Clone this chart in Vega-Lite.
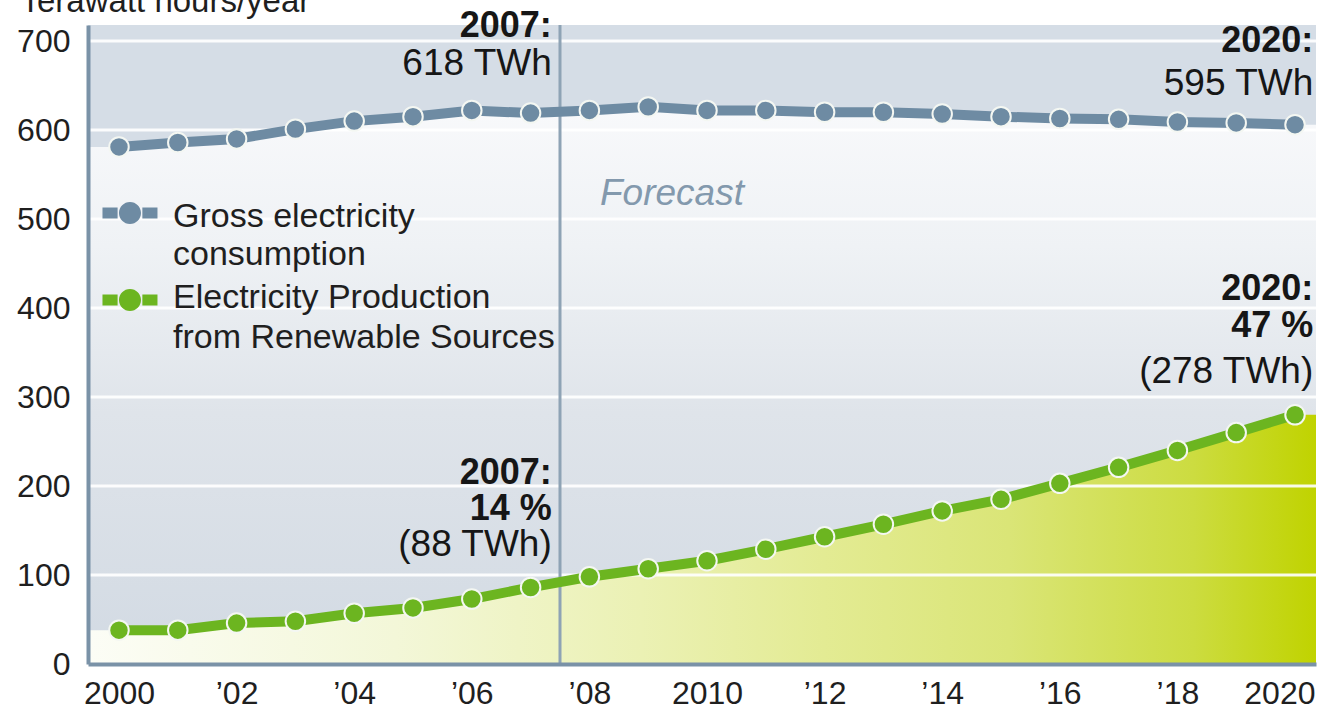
{
  "$schema": "https://vega.github.io/schema/vega-lite/v6.json",
  "width": 1228,
  "height": 639,
  "autosize": {"type": "none"},
  "padding": {"left": 88, "top": 25, "right": 5, "bottom": 48},
  "background": "white",
  "config": {
    "view": {"stroke": null, "fill": "#d5dde6"},
    "font": "Liberation Sans"
  },
  "datasets": {
    "energy": [
      {"year": 1999.473, "gross": 581, "renew": 38},
      {"year": 2000, "gross": 581, "renew": 38},
      {"year": 2001, "gross": 586, "renew": 38},
      {"year": 2002, "gross": 590, "renew": 46},
      {"year": 2003, "gross": 601, "renew": 48},
      {"year": 2004, "gross": 610, "renew": 57},
      {"year": 2005, "gross": 615, "renew": 63},
      {"year": 2006, "gross": 622, "renew": 73},
      {"year": 2007, "gross": 619, "renew": 86},
      {"year": 2008, "gross": 622, "renew": 98},
      {"year": 2009, "gross": 626, "renew": 107},
      {"year": 2010, "gross": 622, "renew": 116},
      {"year": 2011, "gross": 622, "renew": 129},
      {"year": 2012, "gross": 620, "renew": 143},
      {"year": 2013, "gross": 620, "renew": 157},
      {"year": 2014, "gross": 618, "renew": 172},
      {"year": 2015, "gross": 615, "renew": 185},
      {"year": 2016, "gross": 613, "renew": 203},
      {"year": 2017, "gross": 612, "renew": 221},
      {"year": 2018, "gross": 609, "renew": 240},
      {"year": 2019, "gross": 608, "renew": 260},
      {"year": 2020, "gross": 606, "renew": 280},
      {"year": 2020.357, "gross": 606, "renew": 280}
    ],
    "grid": [
      {"v": 100}, {"v": 200}, {"v": 300}, {"v": 400}, {"v": 500}, {"v": 600}, {"v": 700}
    ],
    "split": [{"year": 2007.5}],
    "legendSymbols": [
      {"year": 2000.187, "tw": 506.8, "key": "gross"},
      {"year": 2000.187, "tw": 409, "key": "renew"}
    ],
    "legendLabels": [
      {"year": 2000.919, "tw": 491, "text": "Gross electricity"},
      {"year": 2000.919, "tw": 448.3, "text": "consumption"},
      {"year": 2000.919, "tw": 400, "text": "Electricity Production"},
      {"year": 2000.919, "tw": 355.1, "text": "from Renewable Sources"}
    ],
    "notes": [
      {"year": 2007.36, "tw": 704.5, "text": "2007:", "kind": "head"},
      {"year": 2007.36, "tw": 661.8, "text": "618 TWh", "kind": "body"},
      {"year": 2020.31, "tw": 687.7, "text": "2020:", "kind": "head"},
      {"year": 2020.31, "tw": 639.3, "text": "595 TWh", "kind": "body"},
      {"year": 2007.36, "tw": 202.3, "text": "2007:", "kind": "head"},
      {"year": 2007.36, "tw": 161.9, "text": "14 %", "kind": "head"},
      {"year": 2007.36, "tw": 121.4, "text": "(88 TWh)", "kind": "body"},
      {"year": 2020.31, "tw": 408.5, "text": "2020:", "kind": "head"},
      {"year": 2020.31, "tw": 367.4, "text": "47 %", "kind": "head"},
      {"year": 2020.31, "tw": 315.7, "text": "(278 TWh)", "kind": "body"}
    ],
    "forecast": [{"year": 2008.18, "tw": 515.7, "text": "Forecast"}]
  },
  "layer": [
    {
      "data": {"name": "energy"},
      "mark": {
        "type": "area",
        "fill": {"gradient": "linear", "x1": 0, "y1": 0, "x2": 0, "y2": 1,
          "stops": [
            {"offset": 0, "color": "#f8f9fb"},
            {"offset": 0.25, "color": "#eff2f5"},
            {"offset": 0.55, "color": "#dfe4ea"},
            {"offset": 1, "color": "#d2dae3"}
          ]}
      },
      "encoding": {
        "x": {"field": "year", "type": "quantitative", "title": null,
          "scale": {"domain": [1999.473, 2020.357], "nice": false, "zero": false},
          "axis": {
            "values": [2000, 2002, 2004, 2006, 2008, 2010, 2012, 2014, 2016, 2018, 2020],
            "labelExpr": "datum.value % 10 == 0 ? toString(datum.value) : '\u2019' + slice(toString(datum.value), 2)",
            "labelAlign": {"condition": {"test": "datum.value == 2020", "value": "right"}, "value": "center"},
            "labelOffset": {"condition": {"test": "datum.value == 2020", "value": 20}, "value": 0},
            "ticks": false, "grid": false, "domainColor": "#7a92a7", "domainWidth": 4,
            "labelFontSize": 32, "labelColor": "#1f1f1f", "labelPadding": 14,
            "labelFont": "Liberation Sans", "zindex": 1
          }},
        "y": {"field": "gross", "type": "quantitative", "title": "Terawatt hours/year",
          "scale": {"domain": [0, 718], "nice": false},
          "axis": {
            "values": [0, 100, 200, 300, 400, 500, 600, 700],
            "ticks": false, "grid": false, "domainColor": "#7a92a7", "domainWidth": 4,
            "labelFontSize": 32, "labelColor": "#1f1f1f", "labelPadding": 18,
            "labelFont": "Liberation Sans", "zindex": 1,
            "titleAngle": 0, "titleAlign": "left", "titleBaseline": "alphabetic",
            "titleX": -68, "titleY": -14, "titleFontSize": 33, "titleFontWeight": "normal",
            "titleColor": "#1f1f1f", "titleFont": "Liberation Sans"
          }}
      }
    },
    {
      "data": {"name": "energy"},
      "mark": {
        "type": "area",
        "fill": {"gradient": "linear", "x1": 0, "y1": 0, "x2": 1, "y2": 0,
          "stops": [
            {"offset": 0, "color": "#fcfdf6"},
            {"offset": 0.25, "color": "#f3f7d8"},
            {"offset": 0.45, "color": "#ebf1b4"},
            {"offset": 0.6, "color": "#e3eb93"},
            {"offset": 0.75, "color": "#dae577"},
            {"offset": 0.9, "color": "#ccdc40"},
            {"offset": 1, "color": "#c0d300"}
          ]}
      },
      "encoding": {
        "x": {"field": "year", "type": "quantitative", "title": null,
          "scale": {"domain": [1999.473, 2020.357], "nice": false, "zero": false}},
        "y": {"field": "renew", "type": "quantitative", "title": "Terawatt hours/year",
          "scale": {"domain": [0, 718], "nice": false}}
      }
    },
    {
      "data": {"name": "grid"},
      "mark": {"type": "rule", "stroke": "white", "strokeWidth": 3, "opacity": 0.9},
      "encoding": {
        "y": {"field": "v", "type": "quantitative", "title": "Terawatt hours/year",
          "scale": {"domain": [0, 718], "nice": false}}
      }
    },
    {
      "data": {"name": "split"},
      "mark": {"type": "rule", "stroke": "#8ea3b5", "strokeWidth": 3},
      "encoding": {
        "x": {"field": "year", "type": "quantitative", "title": null,
          "scale": {"domain": [1999.473, 2020.357], "nice": false, "zero": false}}
      }
    },
    {
      "data": {"name": "energy"},
      "transform": [
        {"filter": "datum.year >= 2000 && datum.year <= 2020"},
        {"fold": ["gross", "renew"], "as": ["key", "value"]}
      ],
      "mark": {"type": "line", "strokeWidth": 10, "strokeCap": "butt"},
      "encoding": {
        "x": {"field": "year", "type": "quantitative", "title": null,
          "scale": {"domain": [1999.473, 2020.357], "nice": false, "zero": false}},
        "y": {"field": "value", "type": "quantitative", "title": "Terawatt hours/year",
          "scale": {"domain": [0, 718], "nice": false}},
        "stroke": {"field": "key", "type": "nominal", "legend": null,
          "scale": {"domain": ["gross", "renew"], "range": ["#6e8ba3", "#6cb520"]}}
      }
    },
    {
      "data": {"name": "energy"},
      "transform": [
        {"filter": "datum.year >= 2000 && datum.year <= 2020"},
        {"fold": ["gross", "renew"], "as": ["key", "value"]}
      ],
      "mark": {"type": "point", "filled": true, "size": 380, "stroke": "#f4f7f2", "strokeWidth": 2, "opacity": 1},
      "encoding": {
        "x": {"field": "year", "type": "quantitative", "title": null,
          "scale": {"domain": [1999.473, 2020.357], "nice": false, "zero": false}},
        "y": {"field": "value", "type": "quantitative", "title": "Terawatt hours/year",
          "scale": {"domain": [0, 718], "nice": false}},
        "color": {"field": "key", "type": "nominal", "legend": null,
          "scale": {"domain": ["gross", "renew"], "range": ["#6e8ba3", "#6cb520"]}}
      }
    },
    {
      "data": {"name": "legendSymbols"},
      "mark": {"type": "point", "filled": true, "size": 3025, "opacity": 1, "strokeWidth": 0,
        "shape": "M-1,-0.2H-0.45V0.2H-1Z M0.45,-0.2H1V0.2H0.45Z M0,-0.4A0.4,0.4,0,1,1,0,0.4A0.4,0.4,0,1,1,0,-0.4Z"},
      "encoding": {
        "x": {"field": "year", "type": "quantitative", "title": null,
          "scale": {"domain": [1999.473, 2020.357], "nice": false, "zero": false}},
        "y": {"field": "tw", "type": "quantitative", "title": "Terawatt hours/year",
          "scale": {"domain": [0, 718], "nice": false}},
        "color": {"field": "key", "type": "nominal", "legend": null,
          "scale": {"domain": ["gross", "renew"], "range": ["#6e8ba3", "#6cb520"]}}
      }
    },
    {
      "data": {"name": "legendLabels"},
      "mark": {"type": "text", "align": "left", "baseline": "alphabetic", "fontSize": 34, "color": "#1f1f1f"},
      "encoding": {
        "x": {"field": "year", "type": "quantitative", "title": null,
          "scale": {"domain": [1999.473, 2020.357], "nice": false, "zero": false}},
        "y": {"field": "tw", "type": "quantitative", "title": "Terawatt hours/year",
          "scale": {"domain": [0, 718], "nice": false}},
        "text": {"field": "text"}
      }
    },
    {
      "data": {"name": "notes"},
      "transform": [{"filter": "datum.kind == 'head'"}],
      "mark": {"type": "text", "align": "right", "baseline": "alphabetic", "fontSize": 36, "fontWeight": "bold", "color": "#161616"},
      "encoding": {
        "x": {"field": "year", "type": "quantitative", "title": null,
          "scale": {"domain": [1999.473, 2020.357], "nice": false, "zero": false}},
        "y": {"field": "tw", "type": "quantitative", "title": "Terawatt hours/year",
          "scale": {"domain": [0, 718], "nice": false}},
        "text": {"field": "text"}
      }
    },
    {
      "data": {"name": "notes"},
      "transform": [{"filter": "datum.kind == 'body'"}],
      "mark": {"type": "text", "align": "right", "baseline": "alphabetic", "fontSize": 37, "fontWeight": "normal", "color": "#161616"},
      "encoding": {
        "x": {"field": "year", "type": "quantitative", "title": null,
          "scale": {"domain": [1999.473, 2020.357], "nice": false, "zero": false}},
        "y": {"field": "tw", "type": "quantitative", "title": "Terawatt hours/year",
          "scale": {"domain": [0, 718], "nice": false}},
        "text": {"field": "text"}
      }
    },
    {
      "data": {"name": "forecast"},
      "mark": {"type": "text", "align": "left", "baseline": "alphabetic", "fontSize": 37, "fontStyle": "italic", "color": "#8399ad"},
      "encoding": {
        "x": {"field": "year", "type": "quantitative", "title": null,
          "scale": {"domain": [1999.473, 2020.357], "nice": false, "zero": false}},
        "y": {"field": "tw", "type": "quantitative", "title": "Terawatt hours/year",
          "scale": {"domain": [0, 718], "nice": false}},
        "text": {"field": "text"}
      }
    }
  ]
}
